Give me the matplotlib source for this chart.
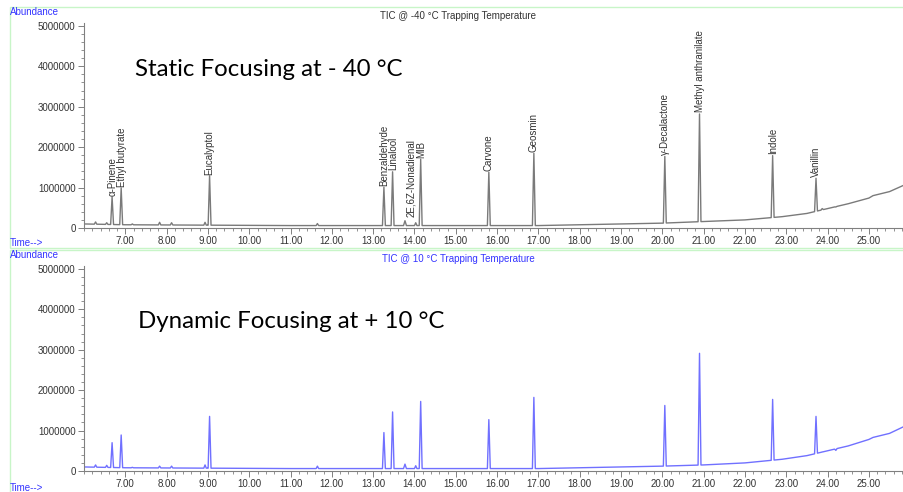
import numpy as np
import matplotlib.pyplot as plt
from matplotlib.patches import Rectangle
from matplotlib.ticker import MultipleLocator, FixedLocator

# --- data (time in min, abundance) ---
peak_names = ['α-Pinene', 'Ethyl butyrate', 'Eucalyptol', 'Benzaldehyde', 'Linalool',
              '2E,6Z-Nonadienal', 'MIB', 'Carvone', 'Geosmin', 'γ-Decalactone',
              'Methyl anthranilate', 'Indole', 'Vanillin']
peak_rt = [6.68, 6.90, 9.04, 13.26, 13.47, 13.77, 14.15, 15.80, 16.89, 20.06, 20.90, 22.67, 23.72]
apex_static = [0.77e6, 0.99e6, 1.29e6, 1.01e6, 1.39e6, 0.18e6, 1.70e6, 1.38e6, 1.85e6,
               1.77e6, 2.82e6, 1.79e6, 1.23e6]
apex_dynamic = [0.70e6, 0.89e6, 1.35e6, 0.95e6, 1.46e6, 0.17e6, 1.72e6, 1.27e6, 1.82e6,
                1.62e6, 2.91e6, 1.77e6, 1.35e6]
# label anchor (x, bottom y) for the static panel
label_x = [6.70, 6.92, 9.04, 13.26, 13.49, 13.91, 14.17, 15.80, 16.89, 20.06, 20.90, 22.67, 23.72]
label_y = [0.80e6, 1.02e6, 1.32e6, 1.04e6, 1.43e6, 0.27e6, 1.74e6, 1.42e6, 1.89e6,
           1.81e6, 2.86e6, 1.83e6, 1.27e6]

minor_rt = [6.28, 6.55, 7.17, 7.83, 8.12, 8.93, 11.65, 14.03, 23.87, 24.20]
minor_static = [0.15e6, 0.13e6, 0.10e6, 0.14e6, 0.13e6, 0.14e6, 0.11e6, 0.13e6, 0.48e6, 0.52e6]
minor_dynamic = [0.15e6, 0.14e6, 0.09e6, 0.12e6, 0.12e6, 0.15e6, 0.12e6, 0.13e6, 0.47e6, 0.51e6]

base_t = [6.0, 7.0, 9.0, 11.0, 13.0, 15.0, 17.0, 18.0, 19.0, 20.0, 21.0, 22.0, 22.9,
          23.5, 24.0, 24.5, 25.0, 25.1, 25.5, 25.85]
base_static = [0.10e6, 0.08e6, 0.07e6, 0.06e6, 0.06e6, 0.06e6, 0.06e6, 0.08e6, 0.10e6,
               0.12e6, 0.16e6, 0.20e6, 0.28e6, 0.36e6, 0.48e6, 0.60e6, 0.74e6, 0.80e6,
               0.90e6, 1.06e6]
base_dynamic = [0.10e6, 0.08e6, 0.07e6, 0.06e6, 0.06e6, 0.06e6, 0.06e6, 0.08e6, 0.10e6,
                0.12e6, 0.15e6, 0.20e6, 0.29e6, 0.38e6, 0.50e6, 0.62e6, 0.78e6, 0.83e6,
                0.93e6, 1.10e6]

y_ticks = [0, 1000000, 2000000, 3000000, 4000000, 5000000]
x_ticks = [7, 8, 9, 10, 11, 12, 13, 14, 15, 16, 17, 18, 19, 20, 21, 22, 23, 24, 25]


def trace(base_v, apex, minor_apex):
    pts = []
    windows = []
    for rt, ap, hw in list(zip(peak_rt, apex, [0.035] * len(peak_rt))) + \
            list(zip(minor_rt, minor_apex, [0.03] * len(minor_rt))):
        lo, hi = rt - hw, rt + hw
        windows.append((lo, hi))
        pts += [(lo, np.interp(lo, base_t, base_v)), (rt, ap), (hi, np.interp(hi, base_t, base_v))]
    for t, v in zip(base_t, base_v):
        if not any(lo <= t <= hi for lo, hi in windows):
            pts.append((t, v))
    pts.sort()
    return [p[0] for p in pts], [p[1] for p in pts]


blue = '#3434ff'
fig = plt.figure(figsize=(9.04, 4.92), dpi=100)
plt.rcParams['font.family'] = ['Liberation Sans', 'DejaVu Sans']

# light green panel frames
for y0, y1 in [(7, 248), (250, 495)]:
    fig.patches.append(Rectangle((10 / 904, 1 - y1 / 492), 1.2, (y1 - y0) / 492,
                                 transform=fig.transFigure, fill=False,
                                 edgecolor='#c8f5c8', lw=1.0))

panels = [
    (0.5366, apex_static, minor_static, base_static, '#7a7a7a',
     'TIC @ -40 °C Trapping Temperature', '#333333', 'Static Focusing at - 40 °C', 12, 243, 70),
    (0.0427, apex_dynamic, minor_dynamic, base_dynamic, '#7070ff',
     'TIC @ 10 °C Trapping Temperature', blue, 'Dynamic Focusing at + 10 °C', 255, 488, 322),
]

for i, (bot, apex, mapex, basev, col, title, tcol, big, ab_y, time_y, big_y) in enumerate(panels):
    ax = fig.add_axes([84 / 904, bot, 1 - 84 / 904, 0.4167])
    t, v = trace(basev, apex, mapex)
    ax.plot(t, v, color=col, lw=1.0)
    ax.set_xlim(6.0, 25.85)
    ax.set_ylim(0, 5.07e6)
    for s in ['top', 'right']:
        ax.spines[s].set_visible(False)
    for s in ['left', 'bottom']:
        ax.spines[s].set_color('#808080')
        ax.spines[s].set_linewidth(0.8)
    ax.xaxis.set_major_locator(FixedLocator(x_ticks))
    ax.xaxis.set_minor_locator(MultipleLocator(0.2))
    ax.yaxis.set_major_locator(FixedLocator(y_ticks))
    ax.yaxis.set_minor_locator(MultipleLocator(200000))
    ax.set_xticklabels(['%.2f' % x for x in x_ticks])
    ax.set_yticklabels([str(y) for y in y_ticks])
    ax.tick_params(which='major', length=4, width=0.7, color='#808080', labelsize=7,
                   labelcolor='#333333', pad=2)
    ax.tick_params(which='minor', length=2, width=0.6, color='#808080')
    ax.patch.set_alpha(0)

    if i == 0:
        for name, x, y in zip(peak_names, label_x, label_y):
            ax.text(x, y, name, rotation=90, ha='center', va='bottom', fontsize=7,
                    color='#333333')

    fig.text(458 / 904, 1 - (ab_y + 4) / 492, title, ha='center', va='center', fontsize=7,
             color=tcol)
    fig.text(10 / 904, 1 - ab_y / 492, 'Abundance', ha='left', va='center', fontsize=7,
             color=blue)
    fig.text(10 / 904, 1 - time_y / 492, 'Time-->', ha='left', va='center', fontsize=7,
             color=blue)
    fig.text((135 + 3 * i) / 904, 1 - big_y / 492, big, ha='left', va='center', fontsize=17.3,
             family=['Lato', 'DejaVu Sans'], color='black')

fig.savefig('out.png', dpi=100)
